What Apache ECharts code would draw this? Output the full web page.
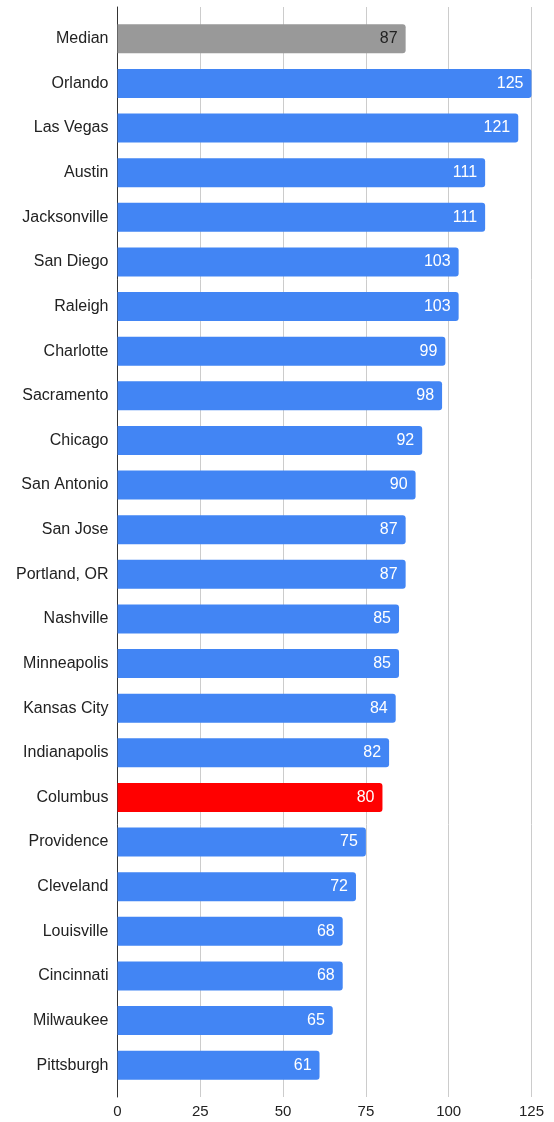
<!DOCTYPE html>
<html>
<head>
<meta charset="utf-8">
<script src="https://cdn.jsdelivr.net/npm/echarts@6/dist/echarts.min.js"></script>
<style>
  html, body { margin: 0; padding: 0; background: #fff; }
  #chart { width: 554px; height: 1122px; }
</style>
</head>
<body>
<div id="chart"></div>
<script>
// City values, top to bottom
const cities = [
  'Median', 'Orlando', 'Las Vegas', 'Austin', 'Jacksonville', 'San Diego',
  'Raleigh', 'Charlotte', 'Sacramento', 'Chicago', 'San Antonio', 'San Jose',
  'Portland, OR', 'Nashville', 'Minneapolis', 'Kansas City', 'Indianapolis',
  'Columbus', 'Providence', 'Cleveland', 'Louisville', 'Cincinnati',
  'Milwaukee', 'Pittsburgh'
];
const values = [
  87, 125, 121, 111, 111, 103, 103, 99, 98, 92, 90, 87, 87, 85, 85, 84, 82,
  80, 75, 72, 68, 68, 65, 61
];
const tickValues = [0, 25, 50, 75, 100, 125];

const FONT = 'Liberation Sans, Arial, Helvetica, sans-serif';
const BLUE = '#4285f4';
const colorFor = name =>
  name === 'Median' ? '#999999' : name === 'Columbus' ? '#ff0000' : BLUE;

const barData = values.map((v, i) => ({
  value: v,
  itemStyle: { color: colorFor(cities[i]) },
  label: { color: cities[i] === 'Median' ? '#222222' : '#ffffff' }
}));

const xMin = tickValues[0];
const xMax = tickValues[tickValues.length - 1];
const xStep = tickValues[1] - tickValues[0];

const chart = echarts.init(document.getElementById('chart'), null, { renderer: 'canvas' });
chart.setOption({
  animation: false,
  backgroundColor: '#ffffff',
  grid: [
    // bars
    { left: 117.5, right: 22.5, top: 16.5, height: 1071 },
    // full-height gridlines, axis line and tick labels
    { left: 117.5, right: 22.5, top: 7, height: 1090 }
  ],
  xAxis: [
    {
      gridIndex: 0, type: 'value', min: xMin, max: xMax, interval: xStep,
      axisLine: { show: false }, axisTick: { show: false },
      axisLabel: { show: false }, splitLine: { show: false }
    },
    {
      gridIndex: 1, type: 'value', min: xMin, max: xMax, interval: xStep,
      axisLine: { show: false }, axisTick: { show: false },
      axisLabel: { color: '#222222', fontSize: 15, fontFamily: FONT, margin: 7 },
      splitLine: { lineStyle: { color: '#cccccc', width: 1 } }
    }
  ],
  yAxis: [
    {
      gridIndex: 0, type: 'category', data: cities, inverse: true,
      axisLine: { show: false }, axisTick: { show: false },
      axisLabel: { color: '#222222', fontSize: 16, fontFamily: FONT, margin: 9 }
    },
    {
      gridIndex: 1, type: 'value', min: 0, max: 1,
      axisLine: { show: true, lineStyle: { color: '#333333', width: 1 } },
      axisTick: { show: false }, axisLabel: { show: false },
      splitLine: { show: false }
    }
  ],
  series: [
    {
      type: 'bar',
      xAxisIndex: 0, yAxisIndex: 0,
      data: barData,
      barWidth: 29,
      itemStyle: { borderRadius: [0, 3, 3, 0] },
      label: {
        show: true, position: 'insideRight', distance: 8,
        fontSize: 16, fontFamily: FONT
      },
      z: 3
    }
  ]
});
</script>
</body>
</html>
